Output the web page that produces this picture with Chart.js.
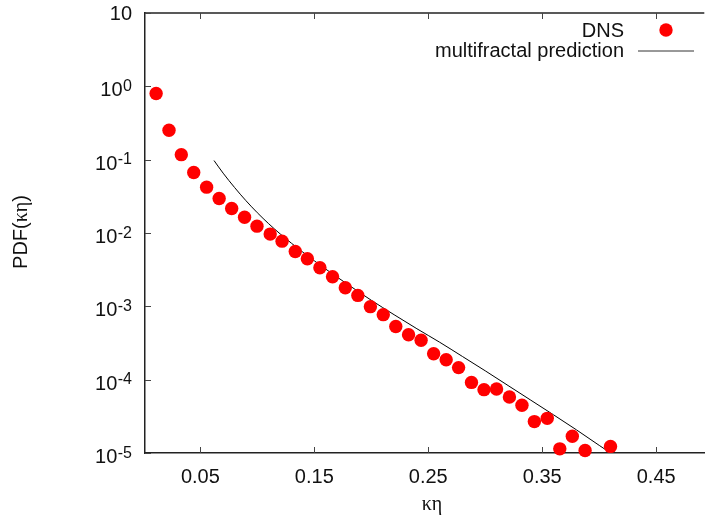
<!DOCTYPE html>
<html>
<head>
<meta charset="utf-8">
<script src="https://cdn.jsdelivr.net/npm/chart.js@4.4.0/dist/chart.umd.min.js"></script>
<style>
  html, body { margin: 0; padding: 0; background: #fff; overflow: hidden; }
</style>
</head>
<body>
<canvas id="grafico" width="711" height="523"></canvas>
<script>
//Datos
const kEta = [0.0112, 0.0225, 0.0333, 0.0442, 0.0555, 0.0665, 0.0775, 0.0888, 0.0997, 0.1113,
  0.1217, 0.1333, 0.1439, 0.1549, 0.1660, 0.1772, 0.1882, 0.1992, 0.2105, 0.2215,
  0.2327, 0.2437, 0.2547, 0.2657, 0.2766, 0.2879, 0.2989, 0.3099, 0.3212, 0.3322,
  0.3431, 0.3544, 0.3654, 0.3764, 0.3876, 0.4099];
const pdfDns = [0.80, 0.252, 0.117, 0.0667, 0.0422, 0.0295, 0.0216, 0.0164, 0.0124, 0.00966,
  0.00774, 0.0056, 0.00446, 0.00336, 0.00253, 0.00179, 0.00141, 0.00099, 0.00077, 0.00053,
  0.00041, 0.000344, 0.000226, 0.000187, 0.000146, 0.0000918, 0.0000731, 0.0000746, 0.0000581, 0.0000447,
  0.0000268, 0.0000297, 0.0000114, 0.0000169, 0.0000108, 0.0000123];

const kEtaFit = [0.062, 0.07, 0.08, 0.09, 0.10, 0.11, 0.12, 0.13, 0.14, 0.15, 0.16, 0.18,
  0.20, 0.22, 0.24, 0.26, 0.28, 0.30, 0.32, 0.34, 0.36, 0.38, 0.40, 0.41];
const pdfFit = [0.0973, 0.0655, 0.0418, 0.0276, 0.0189, 0.01337, 0.00973, 0.00724, 0.00547, 0.00418, 0.00322, 0.00196,
  0.00121, 0.000769, 0.000495, 0.000324, 0.000207, 0.000132, 0.0000832, 0.0000525, 0.0000331, 0.0000207, 0.0000127, 0.00001];

const xTicks = [0.05, 0.15, 0.25, 0.35, 0.45];
const yTicks = [1e-5, 1e-4, 1e-3, 1e-2, 1e-1, 1, 10];
const yTickBase = ['10', '10', '10', '10', '10', '10', '10'];
const yTickExp = ['-5', '-4', '-3', '-2', '-1', '0', ''];
const seriesLabels = ['DNS', 'multifractal prediction'];

//Colores y fuentes
const rojo = '#ff0000';
const negro = '#000000';
const sans = "'Liberation Sans', Arial, sans-serif";
const serif = "'Liberation Serif', 'Times New Roman', serif";

//Plugin para marco, ticks hacia adentro, etiquetas con exponente, titulos y leyenda
const marco = {
  id: 'marco',
  afterDraw(chart) {
    const ctx = chart.ctx;
    const area = chart.chartArea;
    const xs = chart.scales.x;
    const ys = chart.scales.y;
    ctx.save();

    //borde superior
    ctx.strokeStyle = '#222';
    ctx.lineWidth = 1.5;
    ctx.beginPath();
    ctx.moveTo(area.left, area.top);
    ctx.lineTo(area.right, area.top);
    ctx.stroke();

    //ticks
    ctx.strokeStyle = '#444';
    ctx.lineWidth = 1;
    ctx.beginPath();
    xTicks.forEach(v => {
      const px = Math.round(xs.getPixelForValue(v)) + 0.5;
      ctx.moveTo(px, area.bottom);
      ctx.lineTo(px, area.bottom - 6);
      ctx.moveTo(px, area.top);
      ctx.lineTo(px, area.top + 6);
    });
    yTicks.forEach(v => {
      const py = Math.round(ys.getPixelForValue(v)) + 0.5;
      ctx.moveTo(area.left, py);
      ctx.lineTo(area.left + 6, py);
    });
    ctx.stroke();

    //etiquetas eje y
    ctx.fillStyle = '#111';
    ctx.textAlign = 'right';
    ctx.textBaseline = 'alphabetic';
    const xLabel = area.left - 13;
    yTicks.forEach((v, i) => {
      const py = ys.getPixelForValue(v);
      const exp = yTickExp[i];
      if (exp === '') {
        ctx.font = '20px ' + sans;
        ctx.fillText(yTickBase[i], xLabel, py + 7);
        return;
      }
      ctx.font = '16px ' + sans;
      const w = ctx.measureText(exp).width;
      ctx.fillText(exp, xLabel, py + 4.5);
      ctx.font = '20px ' + sans;
      ctx.fillText(yTickBase[i], xLabel - w - 0.5, py + 10);
    });

    //titulo eje x
    ctx.textAlign = 'center';
    ctx.font = '20px ' + serif;
    ctx.fillText('κη', 432, 510);

    //titulo eje y (mezcla de fuentes)
    ctx.save();
    ctx.translate(27, 232);
    ctx.rotate(-Math.PI / 2);
    ctx.textAlign = 'left';
    const partes = [['PDF(', sans], ['κη', serif], [')', sans]];
    let total = 0;
    partes.forEach(p => { ctx.font = '20px ' + p[1]; total += ctx.measureText(p[0]).width; });
    let x0 = -total / 2;
    partes.forEach(p => {
      ctx.font = '20px ' + p[1];
      ctx.fillText(p[0], x0, 0);
      x0 += ctx.measureText(p[0]).width;
    });
    ctx.restore();

    //leyenda
    ctx.textAlign = 'right';
    ctx.font = '20px ' + sans;
    ctx.fillStyle = '#111';
    ctx.fillText(seriesLabels[0], 624, 36.5);
    ctx.fillText(seriesLabels[1], 624, 57);
    ctx.fillStyle = rojo;
    ctx.beginPath();
    ctx.arc(666, 30, 6.7, 0, Math.PI * 2);
    ctx.fill();
    ctx.strokeStyle = '#333';
    ctx.lineWidth = 1;
    ctx.beginPath();
    ctx.moveTo(638, 51);
    ctx.lineTo(694, 51);
    ctx.stroke();

    ctx.restore();
  }
};

const cdx = document.getElementById('grafico');
const chartInstance = new Chart(cdx, {
  type: 'scatter',
  data: {
    datasets: [
      {
        label: seriesLabels[0],
        data: kEta.map((x, i) => ({ x: x, y: pdfDns[i] })),
        pointRadius: 6.7,
        pointBackgroundColor: rojo,
        pointBorderWidth: 0,
        showLine: false,
        clip: false
      },
      {
        label: seriesLabels[1],
        data: kEtaFit.map((x, i) => ({ x: x, y: pdfFit[i] })),
        showLine: true,
        borderColor: negro,
        borderWidth: 1,
        pointRadius: 0,
        cubicInterpolationMode: 'monotone'
      }
    ]
  },
  options: {
    responsive: false,
    animation: false,
    events: [],
    layout: { padding: { top: 13, right: 0, left: 0, bottom: 0 } },
    plugins: {
      legend: { display: false },
      tooltip: { enabled: false }
    },
    scales: {
      x: {
        type: 'linear',
        min: 0.00144,
        max: 0.4922,
        afterBuildTicks: s => { s.ticks = xTicks.map(v => ({ value: v })); },
        afterFit: s => { s.height = 70; },
        grid: { display: false },
        border: { color: '#222', width: 1.5 },
        ticks: {
          font: { family: sans, size: 20 },
          color: '#111',
          padding: 4,
          maxRotation: 0,
          callback: v => v.toFixed(2)
        }
      },
      y: {
        type: 'logarithmic',
        min: 1e-5,
        max: 10,
        afterBuildTicks: s => { s.ticks = yTicks.map(v => ({ value: v })); },
        afterFit: s => { s.width = 145; },
        grid: { display: false },
        border: { color: '#222', width: 1.5 },
        ticks: { display: false }
      }
    }
  },
  plugins: [marco]
});
</script>
</body>
</html>
